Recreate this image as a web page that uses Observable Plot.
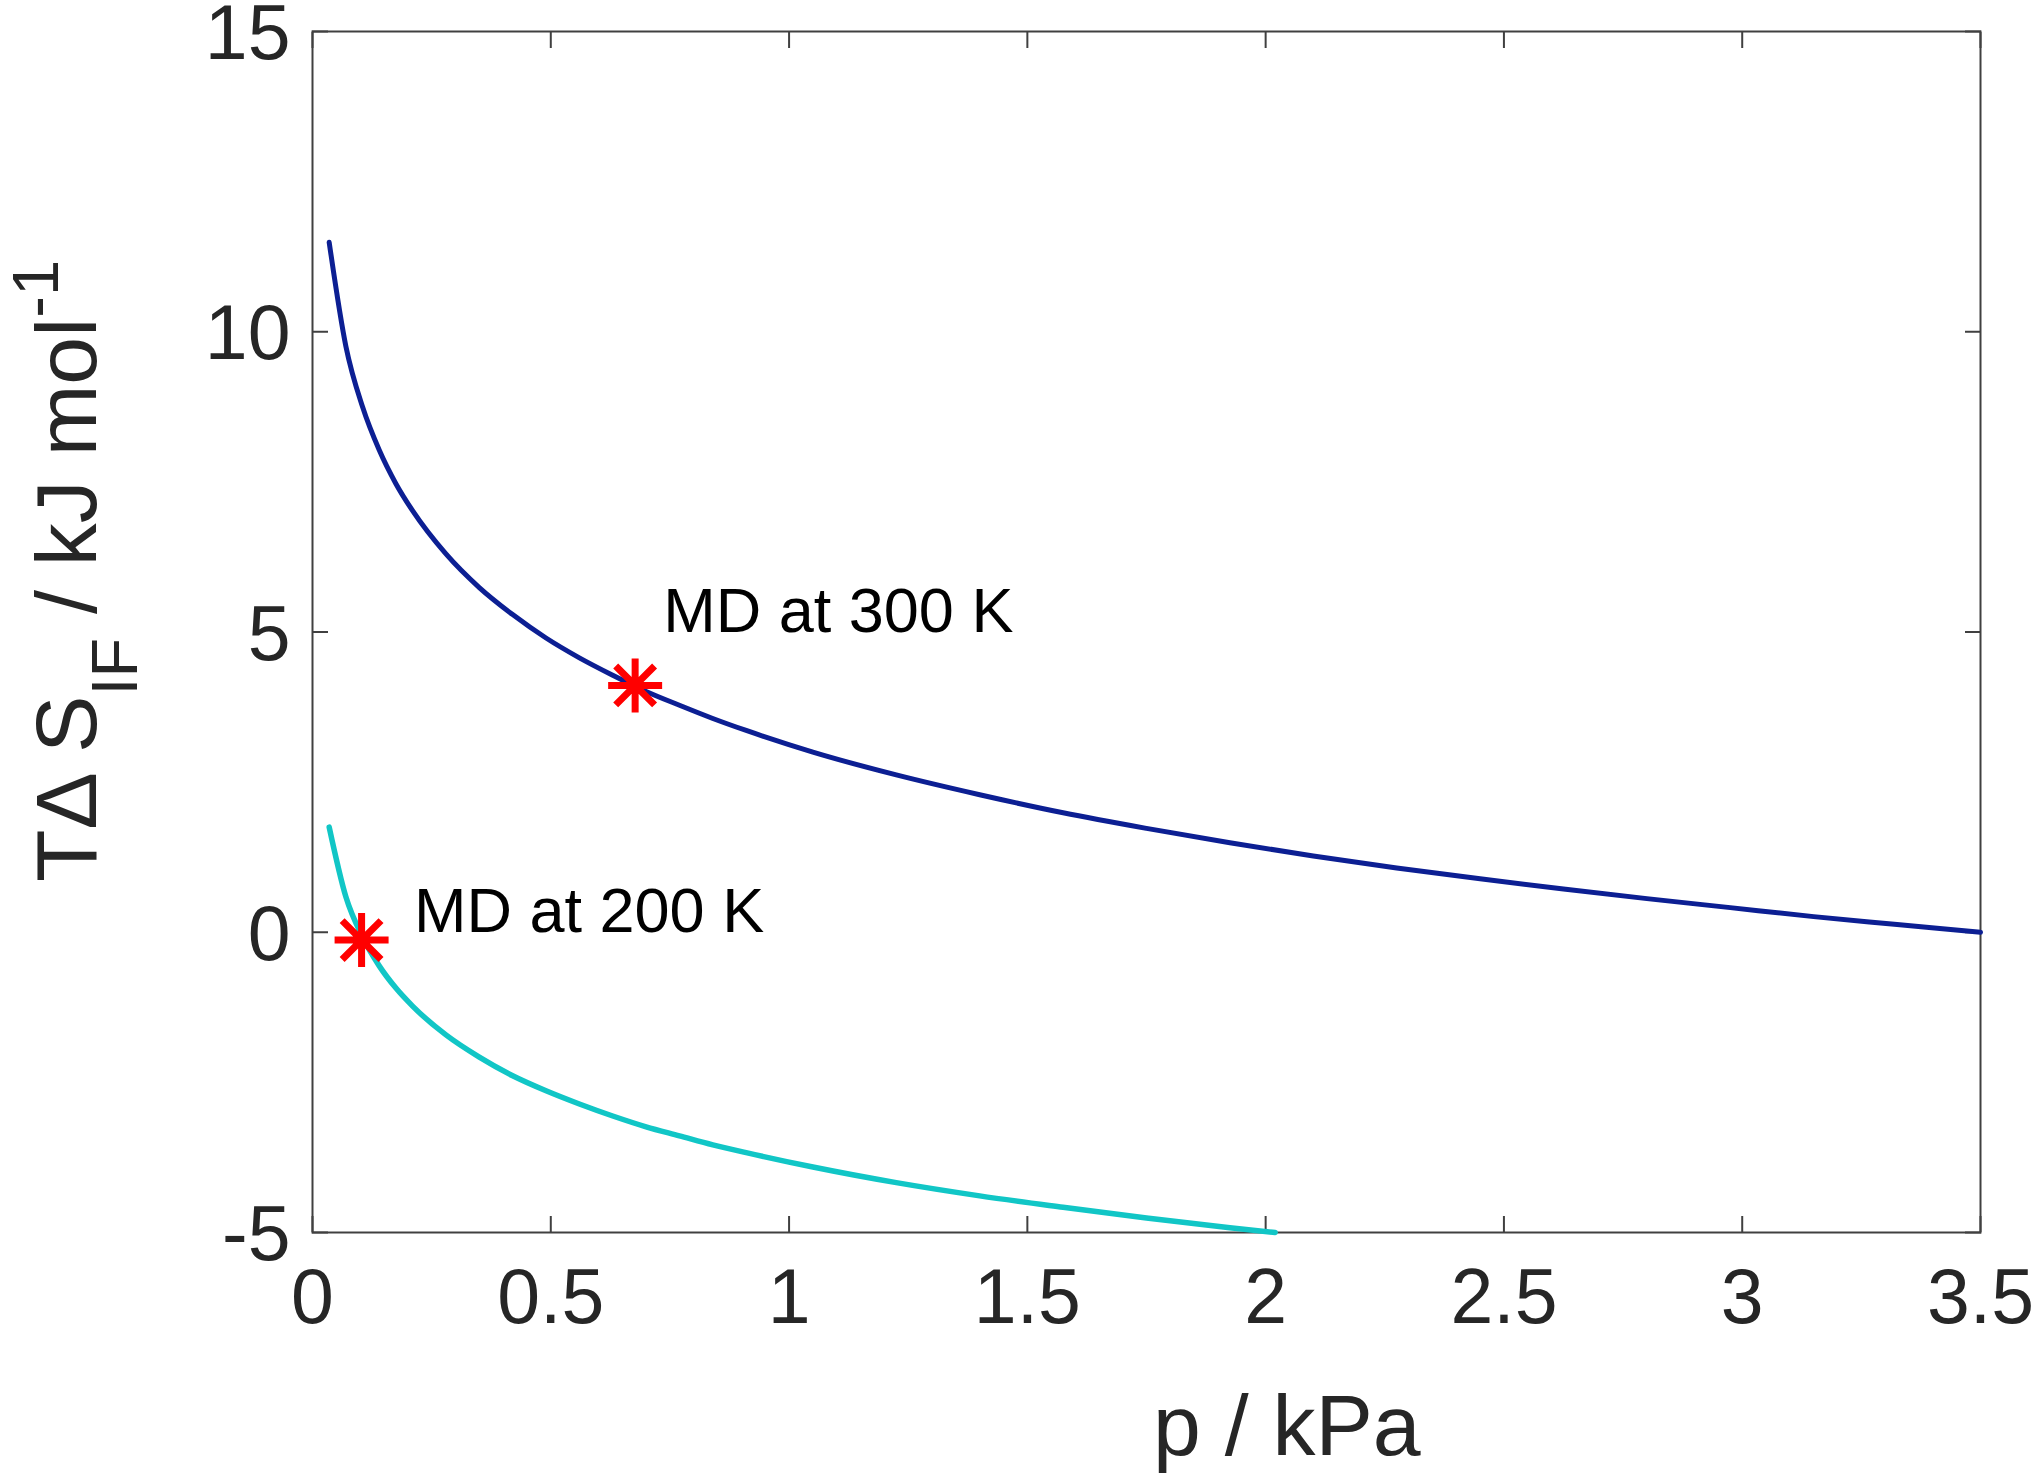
<!DOCTYPE html>
<html>
<head>
<meta charset="utf-8">
<script src="https://cdn.jsdelivr.net/npm/d3@7"></script>
<script src="https://cdn.jsdelivr.net/npm/@observablehq/plot@0.6"></script>
<style>
  body { margin: 0; background: white; }
  #chart svg { display: block; }
</style>
</head>
<body>
<div id="chart"></div>
<script>
// 300 K curve (dark blue)
const p300 = [0.035, 0.07, 0.105, 0.14, 0.175, 0.21, 0.28, 0.35, 0.42, 0.49, 0.56, 0.63, 0.70, 0.77, 0.84, 0.91, 1.05, 1.225, 1.4, 1.575, 1.75, 1.925, 2.1, 2.275, 2.45, 2.625, 2.8, 2.975, 3.15, 3.325, 3.5]
const s300 = [11.49, 9.76, 8.75, 8.03, 7.47, 7.02, 6.30, 5.74, 5.29, 4.90, 4.57, 4.28, 4.01, 3.78, 3.56, 3.36, 3.00, 2.62, 2.29, 1.99, 1.73, 1.49, 1.27, 1.07, 0.89, 0.72, 0.56, 0.41, 0.26, 0.13, 0.00]

// 200 K curve (cyan)
const p200 = [0.035, 0.07, 0.105, 0.14, 0.175, 0.21, 0.28, 0.35, 0.42, 0.49, 0.56, 0.63, 0.70, 0.77, 0.84, 0.91, 1.05, 1.225, 1.4, 1.575, 1.75, 1.925, 2.02]
const s200 = [1.75, 0.59, -0.08, -0.56, -0.93, -1.23, -1.71, -2.08, -2.39, -2.64, -2.86, -3.06, -3.24, -3.39, -3.54, -3.67, -3.91, -4.17, -4.39, -4.58, -4.76, -4.92, -5.00]

// MD points and their labels
const mdP = [0.677, 0.103]
const mdS = [4.11, -0.13]
const mdLabels = ['MD at 300 K', 'MD at 200 K']
const labelP = [0.736, 0.213]
const labelS = [5.0, 0.0]

const xTicks = [0, 0.5, 1, 1.5, 2, 2.5, 3, 3.5]
const yTicks = [-5, 0, 5, 10, 15]

const curve300 = p300.map((p, i) => ({p, s: s300[i]}))
const curve200 = p200.map((p, i) => ({p, s: s200[i]}))
const md = mdP.map((p, i) => ({p, s: mdS[i]}))
const labels = mdLabels.map((text, i) => ({text, p: labelP[i], s: labelS[i]}))

// MATLAB style '*' marker: + and x on top of each other
const asterisk8 = {
  draw(context, size) {
    const r = Math.sqrt(size / Math.PI)
    const d = r * 0.72
    context.moveTo(-r, 0); context.lineTo(r, 0)
    context.moveTo(0, -r); context.lineTo(0, r)
    context.moveTo(-d, -d); context.lineTo(d, d)
    context.moveTo(d, -d); context.lineTo(-d, d)
  }
}

const axisColor = '#404040'
const fmt = d => String(d)
const noText = () => ''

const chart = Plot.plot({
  width: 2033,
  height: 1473,
  marginLeft: 312,
  marginRight: 53,
  marginTop: 31,
  marginBottom: 241,
  style: {fontFamily: '"Liberation Sans", Arial, sans-serif', background: 'white', color: '#262626'},
  x: {domain: [0, 3.5]},
  y: {domain: [-5, 15]},
  marks: [
    Plot.frame({stroke: axisColor, strokeWidth: 2}),
    // ticks point inward on all four sides
    Plot.axisX(xTicks, {anchor: 'bottom', tickSize: -16, tickPadding: 52, fontSize: 77, tickFormat: fmt, stroke: axisColor, strokeWidth: 2, label: null}),
    Plot.axisX(xTicks, {anchor: 'top', tickSize: -16, tickFormat: noText, stroke: axisColor, strokeWidth: 2, label: null}),
    Plot.axisY(yTicks, {anchor: 'left', tickSize: -16, tickFormat: noText, stroke: axisColor, strokeWidth: 2, label: null}),
    Plot.axisY(yTicks, {anchor: 'left', tickSize: 0, tickPadding: 22, fontSize: 77, dy: 3, tickFormat: fmt, label: null}),
    Plot.axisY(yTicks, {anchor: 'right', tickSize: -16, tickFormat: noText, stroke: axisColor, strokeWidth: 2, label: null}),
    Plot.line(curve300, {x: 'p', y: 's', stroke: '#0c1f93', strokeWidth: 5, curve: 'monotone-x'}),
    Plot.line(curve200, {x: 'p', y: 's', stroke: '#11c6c6', strokeWidth: 5.5, curve: 'monotone-x'}),
    Plot.dot(md, {x: 'p', y: 's', symbol: asterisk8, r: 27, stroke: '#ff0000', fill: 'none', strokeWidth: 7, strokeLinecap: 'butt'}),
    Plot.text(labels, {x: 'p', y: 's', text: 'text', textAnchor: 'start', lineAnchor: 'bottom', fontSize: 63, fill: 'black'})
  ]
})

const svg = d3.select(chart)

// y title with subscript and superscript
svg.append('text')
  .attr('transform', 'translate(96,571) rotate(-90)')
  .attr('text-anchor', 'middle')
  .attr('font-size', 86)
  .attr('fill', '#262626')
  .style('white-space', 'pre')
  .call(t => {
    t.append('tspan').text('TΔ S')
    t.append('tspan').attr('font-size', 65).attr('dy', 41).text('IF')
    t.append('tspan').attr('dy', -41).text(' / kJ mol')
    t.append('tspan').attr('font-size', 65).attr('dy', -38).text('-1')
  })

// x title
svg.append('text')
  .attr('x', 1153)
  .attr('y', 1455)
  .attr('text-anchor', 'start')
  .attr('font-size', 86)
  .attr('fill', '#262626')
  .text('p / kPa')

d3.select('#chart').append(() => chart)
</script>
</body>
</html>
